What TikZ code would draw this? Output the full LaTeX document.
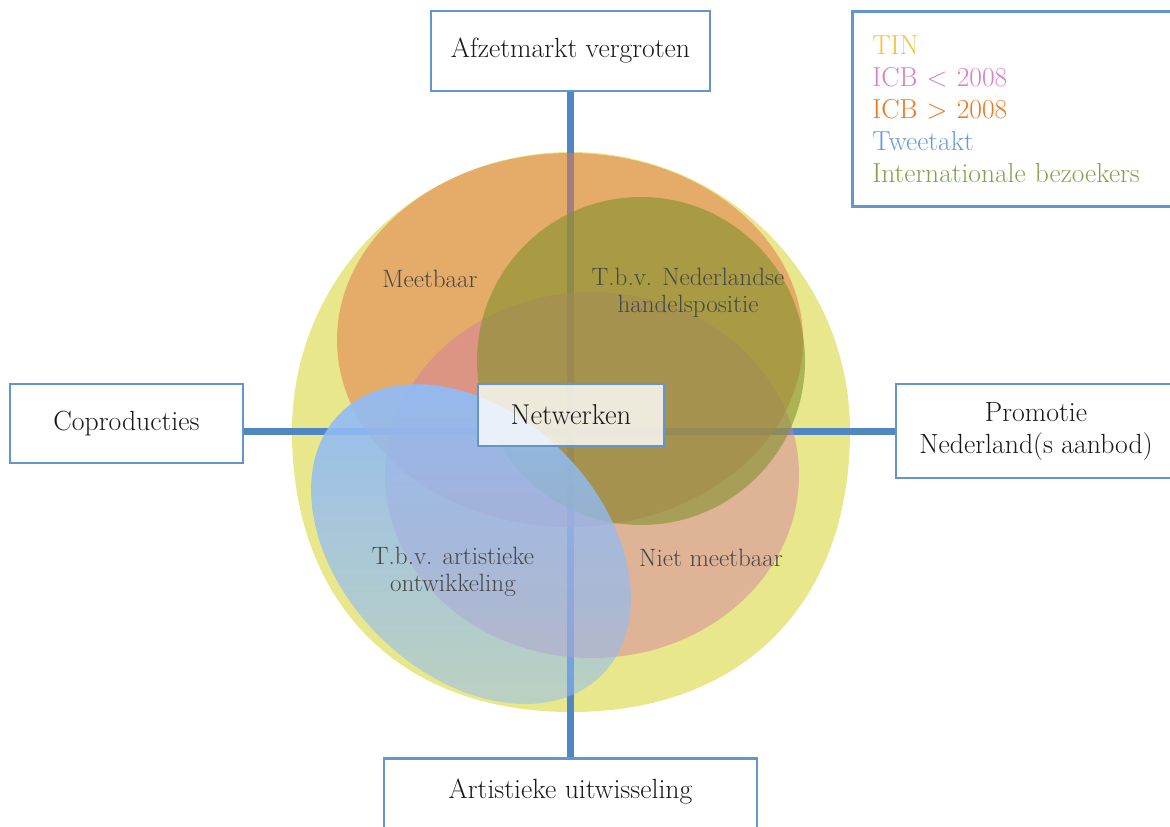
\documentclass[tikz,border=0pt]{standalone}
\usepackage{fontspec}
\usetikzlibrary{fadings}

\definecolor{lijnblauw}{RGB}{80,135,195}
\definecolor{randblauw}{RGB}{100,150,205}
\definecolor{tingeel}{RGB}{233,231,140}
\definecolor{icboud}{RGB}{214,128,160}
\definecolor{icbnieuw}{RGB}{224,124,76}
\definecolor{tweetakt}{RGB}{145,188,245}
\definecolor{bezoekers}{RGB}{131,145,45}
% legend colours
\definecolor{tinkleur}{RGB}{243,196,60}
\definecolor{icboudkleur}{RGB}{220,125,205}
\definecolor{icbnieuwkleur}{RGB}{238,120,30}
\definecolor{tweetaktkleur}{RGB}{100,155,225}
\definecolor{bezoekerskleur}{RGB}{135,160,75}

\tikzfading[name=tweetaktfade, top color=transparent!5, bottom color=transparent!50]

\begin{document}
\begin{tikzpicture}[x=0.75pt,y=0.75pt,yscale=-1,xscale=1,
  kader/.style={draw=randblauw,line width=1.9pt,fill=white,align=center,font=\fontsize{20.8}{24}\selectfont,text=black!90},
  veldtekst/.style={align=center,font=\fontsize{18.8}{20.5}\selectfont,text=black!72},
  aslijn/.style={draw=lijnblauw,line width=5.25pt}]
\useasboundingbox (0,0) rectangle (1170,826);

%Shape: Circle [TIN]
\fill [tingeel] (292,431) arc (180:360:279) .. controls (850,603) and (743,712) .. (571,712) .. controls (399,712) and (292,603) .. cycle ;

% Box Nodes
\node [kader, minimum width=209.25pt, minimum height=60pt] (afzet) at (570.5,51) {Afzetmarkt vergroten};
\node [kader, minimum width=174.75pt, minimum height=59.25pt] (copro) at (126.5,423.5) {Coproducties};
\node [kader, minimum width=210pt, minimum height=70.5pt] (promo) at (1036,431) {Promotie\\Nederland(s aanbod)};
\node [kader, anchor=north, minimum width=279.75pt, text height=14pt, text depth=40pt, inner ysep=16pt] (artist) at (570.5,757) {Artistieke uitwisseling};

%Straight Lines
\draw [aslijn] (afzet.south) -- (artist.north) ;
\draw [aslijn] (copro.east |- promo.west) -- (promo.west) ;

%Shape: Ellipse [ICB > 2008]
\fill [icbnieuw, fill opacity=0.55] (570,340) ellipse (233 and 187) ;
%Shape: Ellipse [ICB < 2008]
\fill [icboud, fill opacity=0.5] (592,475) ellipse (207 and 183) ;
%Shape: Circle [Internationale bezoekers]
\fill [bezoekers, fill opacity=0.6] (641,361) circle (164) ;
%Shape: Ellipse [Tweetakt]
\fill [tweetakt, path fading=tweetaktfade, rotate around={45:(471,544)}] (471,544) ellipse (185 and 130) ;

% Text Node
\node [kader, fill opacity=0.8, text opacity=1, font=\fontsize{21.5}{24}\selectfont, minimum width=139.5pt, minimum height=46.5pt] (netwerk) at (571,415) {Netwerken};
% Text Node
\node [veldtekst] (meet) at (430,279) {Meetbaar};
% Text Node
\node [veldtekst] (handel) at (688,293) {T.b.v. Nederlandse\\handelspositie};
% Text Node
\node [veldtekst] (artistiek) at (453,572) {T.b.v. artistieke\\ontwikkeling};
% Text Node
\node [veldtekst] (nietmeet) at (711,558) {Niet meetbaar};

% Legend
\node [draw=randblauw, line width=1.9pt, fill=white, anchor=north west, minimum height=146.25pt, text width=216.75pt, inner xsep=15pt, align=left, font=\fontsize{20.6}{24}\selectfont] (legenda) at (851,10)
  {\textcolor{tinkleur}{TIN}\\
   \textcolor{icboudkleur}{ICB < 2008}\\
   \textcolor{icbnieuwkleur}{ICB > 2008}\\
   \textcolor{tweetaktkleur}{Tweetakt}\\
   \textcolor{bezoekerskleur}{Internationale bezoekers}};
\end{tikzpicture}
\end{document}
